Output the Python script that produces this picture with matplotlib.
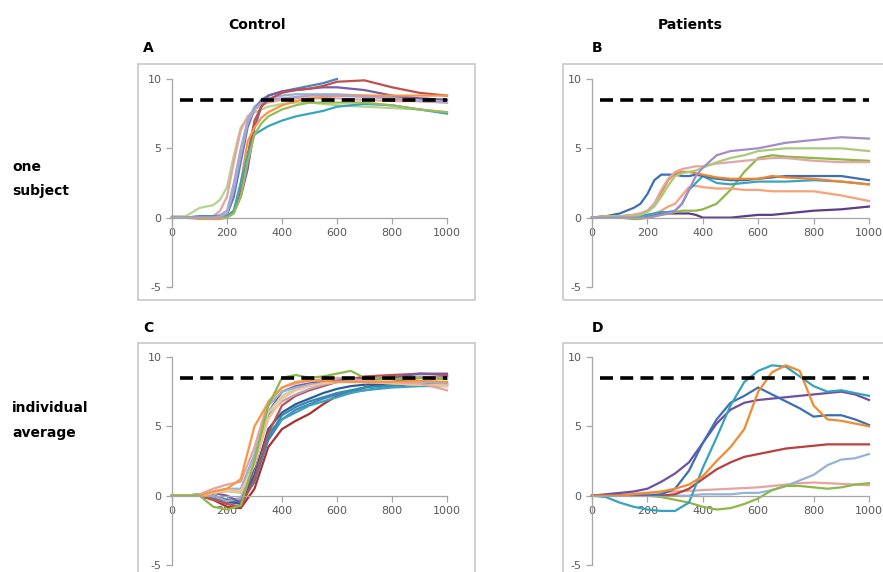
import numpy as np
import matplotlib
matplotlib.use("Agg")
import matplotlib.pyplot as plt
from matplotlib.patches import Rectangle

plt.rcParams["axes.unicode_minus"] = False

# ==========================
# data (x in ms, y = response)
# ==========================
nan = np.nan
TARGET = 8.5

# panel A - control, one subject
A_X = [0, 50, 100, 150, 175, 200, 225, 250, 275, 300, 325, 350, 400, 450, 500, 550, 600, 700, 800, 900, 1000]
a_lightgreen = [0.1, 0.1, 0.7, 0.9, 1.3, 2.2, 4.5, 6.5, 7.2, 7.6, 7.8, 8.0, 8.2, 8.3, 8.3, 8.2, 8.1, 8.0, 7.9, 7.8, 7.6]
a_pink = [0, 0, 0, 0.1, 0.5, 1.5, 4.0, 6.3, 7.3, 7.8, 8.1, 8.3, 8.5, 8.6, 8.6, 8.6, 8.6, 8.5, 8.4, 8.4, 8.3]
a_lightblue = [0, 0, 0.1, 0.1, 0.2, 0.5, 2.5, 5.0, 7.0, 8.0, 8.4, 8.6, 8.8, 8.9, 8.9, 8.9, 8.9, 8.8, 8.7, 8.6, 8.5]
a_blue = [0, 0, 0.1, 0.1, 0.1, 0.2, 1.5, 4.0, 6.5, 7.8, 8.5, 8.8, 9.1, 9.3, 9.5, 9.7, 10.0, nan, nan, nan, nan]
a_purple = [0, 0, 0, 0, 0, 0, 0.5, 1.5, 3.5, 6.5, 8.0, 8.8, 9.1, 9.2, 9.3, 9.4, 9.4, 9.2, 8.8, 8.6, 8.5]
a_red = [0, 0, 0, 0, 0, 0.1, 0.5, 2.0, 4.5, 7.0, 8.0, 8.5, 9.0, 9.2, 9.3, 9.5, 9.8, 9.9, 9.4, 9.0, 8.8]
a_orange = [0, 0, -0.1, -0.1, -0.1, 0, 0.5, 2.5, 5.5, 6.5, 7.2, 7.6, 8.1, 8.4, 8.6, 8.7, 8.8, 8.8, 8.8, 8.8, 8.8]
a_teal = [0, 0, 0, 0, 0, 0.1, 0.5, 2.5, 4.5, 6.0, 6.3, 6.6, 7.0, 7.3, 7.5, 7.7, 8.0, 8.2, 8.1, 7.8, 7.5]
a_green = [0, 0, 0, 0, 0, 0, 0.3, 1.5, 4.0, 6.0, 6.8, 7.3, 7.8, 8.1, 8.3, 8.3, 8.3, 8.3, 8.1, 7.8, 7.6]
a_lightpurple = [0, 0, 0, 0, 0.1, 0.3, 2.0, 4.5, 6.8, 7.8, 8.3, 8.5, 8.6, 8.7, 8.8, 8.8, 8.8, 8.7, 8.6, 8.4, 8.3]

# panel B - patients, one subject
B_X = [0, 50, 100, 150, 175, 200, 225, 250, 275, 300, 325, 350, 375, 400, 450, 500, 550, 600, 650, 700, 800, 900, 1000]
b_blue = [0, 0.1, 0.3, 0.7, 1.0, 1.7, 2.7, 3.1, 3.1, 3.1, 3.0, 3.0, 3.1, 3.0, 2.8, 2.7, 2.7, 2.8, 2.9, 3.0, 3.0, 3.0, 2.7]
b_teal = [0, 0.1, 0.1, 0.1, 0.1, 0.2, 0.3, 0.4, 0.4, 0.5, 1.0, 2.0, 2.5, 3.0, 2.5, 2.4, 2.5, 2.6, 2.6, 2.6, 2.7, 2.6, 2.4]
b_orange = [0, 0.1, 0.1, 0.2, 0.3, 0.5, 1.0, 1.8, 2.7, 3.2, 3.3, 3.3, 3.2, 3.1, 2.9, 2.8, 2.8, 2.8, 3.0, 2.9, 2.8, 2.6, 2.4]
b_lightorange = [0, 0, 0, 0.1, 0.1, 0.2, 0.3, 0.5, 0.8, 1.0, 1.6, 2.2, 2.3, 2.2, 2.1, 2.1, 2.0, 2.0, 1.9, 1.9, 1.9, 1.6, 1.2]
b_pink = [0, 0, 0.1, 0.2, 0.3, 0.5, 1.0, 2.0, 2.8, 3.3, 3.5, 3.6, 3.7, 3.7, 3.9, 4.0, 4.1, 4.2, 4.3, 4.3, 4.1, 4.0, 4.0]
b_lightgreen = [0, 0.1, 0.1, 0.1, 0.2, 0.4, 0.8, 1.5, 2.3, 3.0, 3.2, 3.3, 3.4, 3.6, 4.0, 4.3, 4.5, 4.8, 4.9, 5.0, 5.0, 5.0, 4.8]
b_lightpurple = [0, 0, 0, 0, 0, 0, 0.1, 0.2, 0.3, 0.5, 1.0, 2.0, 3.0, 3.6, 4.5, 4.8, 4.9, 5.0, 5.2, 5.4, 5.6, 5.8, 5.7]
b_green = [0, 0, 0, -0.1, -0.1, 0, 0.1, 0.2, 0.3, 0.4, 0.5, 0.5, 0.5, 0.6, 1.0, 2.0, 3.3, 4.3, 4.5, 4.4, 4.3, 4.2, 4.1]
b_darkpurple = [0, 0, 0, 0, 0.1, 0.1, 0.2, 0.3, 0.3, 0.3, 0.3, 0.3, 0.2, 0.0, 0.0, 0.0, 0.1, 0.2, 0.2, 0.3, 0.5, 0.6, 0.8]

# panel C - control, individual average
C_X = [0, 50, 100, 150, 200, 250, 300, 350, 400, 450, 500, 550, 600, 650, 700, 800, 900, 1000]
c_green = [0, 0, 0, -0.8, -1.0, -0.7, 2.5, 6.5, 8.5, 8.7, 8.5, 8.6, 8.8, 9.0, 8.5, 8.4, 8.5, 8.4]
c_orange = [0, 0, 0, 0.3, 0.5, 1.2, 5.0, 6.7, 7.8, 8.2, 8.3, 8.3, 8.2, 8.2, 8.2, 8.2, 8.3, 8.2]
c_red = [0, 0, 0, -0.3, -0.8, -0.9, 0.5, 3.5, 4.8, 5.4, 5.9, 6.6, 7.2, 7.5, 7.8, 8.2, 8.5, 8.6]
c_blue = [0, 0, 0, -0.2, -0.5, -0.5, 1.0, 4.0, 5.5, 6.2, 6.6, 7.0, 7.3, 7.5, 7.6, 7.9, 8.1, 8.0]
c_teal = [0, 0, 0.1, 0, -0.3, -0.2, 1.5, 4.5, 5.5, 6.0, 6.5, 6.8, 7.1, 7.4, 7.6, 7.8, 7.9, 7.9]
c_purple = [0, 0, 0.1, 0.2, 0, -0.5, 2.0, 6.0, 7.5, 7.9, 8.1, 8.2, 8.3, 8.4, 8.4, 8.5, 8.8, 8.8]
c_lightblue = [0, 0, 0, 0.3, 0.5, 0.5, 3.0, 6.5, 7.5, 7.8, 8.0, 8.1, 8.2, 8.2, 8.2, 8.2, 8.2, 8.1]
c_pink = [0, 0, 0.1, 0.5, 0.8, 1.0, 3.5, 6.8, 7.8, 8.1, 8.3, 8.4, 8.5, 8.4, 8.3, 8.2, 8.1, 7.6]
c_lightgreen = [0, 0, 0, 0.2, 0.3, 0.2, 2.5, 6.0, 7.2, 7.7, 8.0, 8.1, 8.2, 8.2, 8.2, 8.1, 8.0, 8.0]
c_lightpurple = [0, 0, 0, 0, -0.4, -0.2, 2.8, 5.8, 6.8, 7.3, 7.7, 8.0, 8.2, 8.3, 8.4, 8.5, 8.6, 8.5]
c_darkred = [0, 0, 0, -0.3, -0.6, -0.8, 1.2, 4.5, 6.5, 7.2, 7.6, 7.9, 8.2, 8.4, 8.6, 8.7, 8.8, 8.7]
c_darkblue = [0, 0, 0, 0, -0.4, -0.6, 1.5, 4.8, 6.0, 6.6, 7.0, 7.4, 7.7, 7.9, 8.0, 8.1, 8.2, 8.1]
c_lightorange = [0, 0, 0, 0.2, 0.4, 0.3, 2.2, 5.5, 7.0, 7.6, 7.9, 8.1, 8.2, 8.2, 8.2, 8.1, 8.0, 7.9]
c_darkteal = [0, 0, 0, 0, -0.3, -0.4, 1.0, 4.2, 5.8, 6.4, 6.8, 7.1, 7.4, 7.6, 7.8, 8.0, 8.1, 8.0]

# panel D - patients, individual average
D_X = [0, 50, 100, 150, 200, 250, 300, 350, 400, 450, 500, 550, 600, 650, 700, 750, 800, 850, 900, 950, 1000]
d_teal = [0, -0.1, -0.5, -0.8, -1.0, -1.1, -1.1, -0.5, 2.0, 4.2, 6.5, 8.2, 9.0, 9.4, 9.3, 8.6, 7.9, 7.5, 7.6, 7.4, 7.2]
d_orange = [0, 0, 0, 0.1, 0.2, 0.3, 0.5, 0.8, 1.4, 2.5, 3.5, 4.8, 7.5, 8.9, 9.4, 9.0, 6.5, 5.5, 5.4, 5.2, 5.0]
d_blue = [0, 0, 0, 0, 0, 0.1, 0.5, 1.8, 3.8, 5.5, 6.7, 7.2, 7.8, 7.3, 6.8, 6.3, 5.7, 5.8, 5.8, 5.5, 5.1]
d_purple = [0, 0.1, 0.2, 0.3, 0.5, 1.0, 1.6, 2.4, 3.8, 5.2, 6.2, 6.7, 6.9, 7.0, 7.1, 7.2, 7.3, 7.4, 7.5, 7.3, 6.9]
d_red = [0, 0, 0, 0, 0, 0, 0.1, 0.5, 1.2, 1.9, 2.4, 2.8, 3.0, 3.2, 3.4, 3.5, 3.6, 3.7, 3.7, 3.7, 3.7]
d_lightblue = [0, 0, 0, 0, 0, 0, 0, 0, 0.1, 0.1, 0.1, 0.2, 0.2, 0.4, 0.7, 1.1, 1.5, 2.2, 2.6, 2.7, 3.0]
d_green = [0, 0, 0, 0, 0, -0.1, -0.3, -0.5, -0.8, -1.0, -0.9, -0.6, -0.2, 0.4, 0.7, 0.7, 0.6, 0.5, 0.6, 0.8, 0.9]
d_pink = [0, 0.05, 0.1, 0.15, 0.2, 0.25, 0.3, 0.35, 0.4, 0.45, 0.5, 0.55, 0.6, 0.7, 0.8, 0.9, 0.95, 0.9, 0.85, 0.8, 0.75]

# ==========================
# figure
# ==========================
W, H = 883, 572
fig = plt.figure(figsize=(W / 100, H / 100), dpi=100)


def px_axes(left, top, right, bottom):
    return fig.add_axes([left / W, 1 - bottom / H, (right - left) / W, (bottom - top) / H])


def setup(ax, xlim, ylim):
    ax.set_xlim(*xlim)
    ax.set_ylim(*ylim)
    for s in ["top", "right"]:
        ax.spines[s].set_visible(False)
    for s in ["left", "bottom"]:
        ax.spines[s].set_position(("data", 0))
        ax.spines[s].set_color("#A6A6A6")
        ax.spines[s].set_linewidth(0.9)
    ax.spines["left"].set_bounds(-5, 10)
    ax.spines["bottom"].set_bounds(0, 1000)
    ax.set_xticks(range(0, 1001, 200))
    ax.set_yticks([-5, 0, 5, 10])
    ax.tick_params(colors="#A6A6A6", labelcolor="#595959", labelsize=8,
                   length=4, width=0.9, direction="out")
    ax.patch.set_visible(False)
    ax.add_patch(Rectangle((0, 0), 1, 1, transform=ax.transAxes, fill=False,
                           edgecolor="#C8C8C8", linewidth=1.2, clip_on=False))


def target(ax):
    ax.plot([30, 1000], [TARGET, TARGET], color="black", lw=2.6,
            dashes=(3.6, 2.0), zorder=5)


LW = 1.6

# A
axA = px_axes(138, 64, 475, 300)
setup(axA, (-123.6, 1101.8), (-5.94, 11.08))
for y, c in [(a_lightgreen, "#B5D38E"), (a_pink, "#E6A3A0"), (a_lightblue, "#95B3D7"),
             (a_blue, "#4F81BD"), (a_purple, "#7A5CA3"), (a_red, "#C0504D"),
             (a_orange, "#F79646"), (a_teal, "#3AA4C0"), (a_green, "#9BBB59"),
             (a_lightpurple, "#B3A2C7")]:
    axA.plot(A_X, y, color=c, lw=LW)
target(axA)

# B
axB = px_axes(563, 64, 900, 300)
setup(axB, (-104.7, 1112), (-5.94, 11.08))
for y, c in [(b_darkpurple, "#5F3C86"), (b_green, "#8DB848"), (b_lightorange, "#F7A278"),
             (b_teal, "#3AA4C0"), (b_blue, "#3C6FB6"), (b_orange, "#F0832E"),
             (b_pink, "#E0A7A5"), (b_lightgreen, "#A9CB78"), (b_lightpurple, "#A48BC9")]:
    axB.plot(B_X, y, color=c, lw=LW)
target(axB)

# C
axC = px_axes(138, 343, 475, 579)
setup(axC, (-123.6, 1101.8), (-6.01, 11.01))
for y, c in [(c_red, "#A8322F"), (c_blue, "#4F81BD"), (c_teal, "#3AA4C0"),
             (c_darkteal, "#2E8FAE"), (c_darkblue, "#2C5C9A"), (c_darkred, "#C0504D"),
             (c_lightpurple, "#B3A2C7"), (c_purple, "#7A5CA3"), (c_lightgreen, "#C3D69B"),
             (c_lightblue, "#95B3D7"), (c_lightorange, "#FAC090"), (c_pink, "#E6A3A0"),
             (c_orange, "#F79646"), (c_green, "#8DB848")]:
    axC.plot(C_X, y, color=c, lw=LW)
target(axC)

# D
axD = px_axes(563, 343, 900, 579)
setup(axD, (-104.7, 1112), (-6.01, 11.01))
for y, c in [(d_pink, "#E6A3A0"), (d_lightblue, "#95B3D7"), (d_green, "#8DB848"),
             (d_red, "#B8403D"), (d_purple, "#7050A0"), (d_blue, "#3C6FB6"),
             (d_teal, "#35A3BE"), (d_orange, "#F28A2E")]:
    axD.plot(D_X, y, color=c, lw=LW)
target(axD)

# ==========================
# labels
# ==========================
bold = dict(fontweight="bold", fontsize=10, color="black", family="DejaVu Sans")
fig.text(257 / W, 1 - 25 / H, "Control", ha="center", va="center", **bold)
fig.text(690 / W, 1 - 25 / H, "Patients", ha="center", va="center", **bold)
fig.text(143 / W, 1 - 48 / H, "A", ha="left", va="center", **bold)
fig.text(592 / W, 1 - 48 / H, "B", ha="left", va="center", **bold)
fig.text(143 / W, 1 - 328 / H, "C", ha="left", va="center", **bold)
fig.text(592 / W, 1 - 328 / H, "D", ha="left", va="center", **bold)
fig.text(12 / W, 1 - 167 / H, "one", ha="left", va="center", **bold)
fig.text(12 / W, 1 - 191 / H, "subject", ha="left", va="center", **bold)
fig.text(12 / W, 1 - 408 / H, "individual", ha="left", va="center", **bold)
fig.text(12 / W, 1 - 433 / H, "average", ha="left", va="center", **bold)

fig.savefig("out.png", dpi=100)
